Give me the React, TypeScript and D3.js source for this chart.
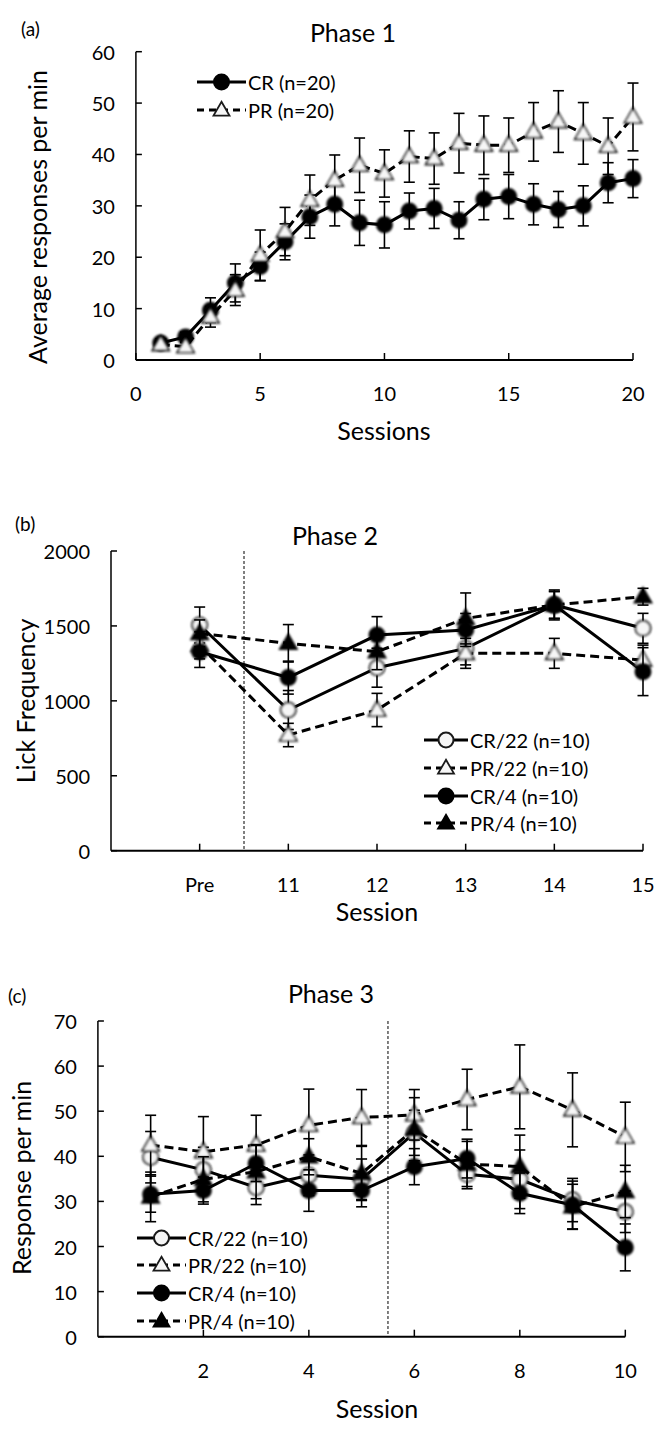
import React from 'react';
import * as d3 from 'd3';

// Phase 1
const sessionsA = d3.range(1, 21);
const crA = [3.3, 4.5, 9.7, 15.0, 18.2, 23.0, 27.9, 30.3, 26.7, 26.3, 29.0, 29.5, 27.2, 31.3, 31.8, 30.3, 29.3, 30.0, 34.5, 35.3];
const crAErr = [0.8, 0.9, 2.4, 3.7, 2.8, 3.5, 4.2, 4.2, 4.4, 4.5, 3.5, 3.9, 3.6, 4.0, 4.3, 4.0, 3.5, 3.9, 3.9, 3.7];
const prA = [3.0, 2.6, 8.4, 13.6, 20.4, 25.0, 31.1, 35.0, 37.9, 36.3, 39.6, 39.2, 42.2, 41.8, 41.8, 44.4, 46.4, 44.1, 41.6, 47.3];
const prAErr = [0.7, 0.8, 2.0, 3.0, 4.9, 4.7, 4.9, 4.9, 5.3, 4.6, 5.0, 5.0, 5.8, 5.7, 5.3, 5.7, 6.0, 6.0, 5.5, 6.6];
const xTicksA = [0, 5, 10, 15, 20];
const yTicksA = [0, 10, 20, 30, 40, 50, 60];

// Phase 2
const labelsB = ['Pre', '11', '12', '13', '14', '15'];
const cr22B = [1506, 939, 1221, 1350, 1640, 1484];
const cr22BErr = [120, 130, 130, 110, 90, 100];
const pr22B = [1370, 772, 939, 1317, 1317, 1272];
const pr22BErr = [90, 78, 111, 100, 100, 100];
const cr4B = [1328, 1155, 1439, 1473, 1640, 1195];
const cr4BErr = [105, 110, 123, 110, 90, 160];
const pr4B = [1450, 1384, 1328, 1550, 1640, 1695];
const pr4BErr = [90, 125, 120, 170, 100, 56];
const yTicksB = [0, 500, 1000, 1500, 2000];

// Phase 3
const sessionsC = d3.range(1, 11);
const cr22C = [39.8, 37.0, 33.1, 35.8, 34.9, 45.2, 36.0, 34.9, 30.3, 27.7];
const cr22CErr = [5.7, 5.0, 3.8, 4.5, 4.5, 5.0, 3.2, 6.5, 4.8, 4.6];
const pr22C = [42.5, 41.0, 42.5, 46.9, 48.6, 49.2, 52.6, 55.4, 50.3, 44.3];
const pr22CErr = [6.6, 7.8, 6.6, 8.0, 6.2, 5.6, 6.7, 9.3, 8.2, 7.7];
const cr4C = [31.6, 32.4, 38.4, 32.4, 32.4, 37.7, 39.5, 31.8, 29.2, 19.8];
const cr4CErr = [4.0, 3.0, 4.0, 4.6, 3.6, 4.0, 4.3, 4.5, 5.3, 5.2];
const pr4C = [31.0, 34.9, 36.6, 39.9, 36.2, 46.0, 38.3, 37.7, 28.8, 32.2];
const pr4CErr = [5.5, 5.0, 6.0, 4.0, 6.0, 7.0, 5.0, 7.0, 5.0, 5.8];
const xTicksC = [2, 4, 6, 8, 10];
const yTicksC = [0, 10, 20, 30, 40, 50, 60, 70];

const FONT = "Lato, 'Open Sans', sans-serif";

type Shape = 'circle' | 'triangle';
type Series = {
  label: string;
  xs: number[];
  values: number[];
  errs: number[];
  shape: Shape;
  filled: boolean;
  dashed: boolean;
};

const triPath = d3.symbol(d3.symbolTriangle, 125)()!;
const triPathLegend = d3.symbol(d3.symbolTriangle, 110)()!;

function Marker({ x, y, shape, filled, legend }: { x: number; y: number; shape: Shape; filled: boolean; legend?: boolean }) {
  const fill = filled ? '#000' : '#f6f6f6';
  const stroke = filled ? '#000' : '#1a1a1a';
  const filter = legend ? undefined : 'url(#soft)';
  if (shape === 'circle') {
    return <circle cx={x} cy={y} r={7.5} fill={fill} stroke={stroke} strokeWidth={2} filter={filter} />;
  }
  return (
    <path
      d={legend ? triPathLegend : triPath}
      transform={`translate(${x},${y + 1})`}
      fill={fill}
      stroke={stroke}
      strokeWidth={1.8}
      filter={filter}
    />
  );
}

type PanelProps = {
  x: d3.ScaleLinear<number, number>;
  y: d3.ScaleLinear<number, number>;
  xTicks: number[];
  xLabels: string[];
  yTicks: number[];
  series: Series[];
  tag: string;
  tagPos: [number, number];
  title: string;
  titlePos: [number, number];
  xTitle: string;
  xTitlePos: [number, number];
  yTitle: string;
  yTitlePos: [number, number];
  divider?: number;
  legend: { x0: number; x1: number; ys: number[] };
};

function Panel(p: PanelProps) {
  const [x0, x1] = p.x.range();
  const [y0, y1] = p.y.range();
  const line = (s: Series) =>
    d3
      .line<number>()
      .x((_, i) => p.x(s.xs[i]))
      .y((v) => p.y(v))(s.values)!;
  const lx = (p.legend.x0 + p.legend.x1) / 2;
  return (
    <g fontFamily={FONT} fill="#000">
      <text x={p.tagPos[0]} y={p.tagPos[1]} fontSize={19} dominantBaseline="central">{p.tag}</text>
      <text x={p.titlePos[0]} y={p.titlePos[1]} fontSize={25} textAnchor="middle" dominantBaseline="central">{p.title}</text>
      <text x={p.xTitlePos[0]} y={p.xTitlePos[1]} fontSize={25} textAnchor="middle" dominantBaseline="central">{p.xTitle}</text>
      <text
        transform={`translate(${p.yTitlePos[0]},${p.yTitlePos[1]}) rotate(-90)`}
        fontSize={25}
        textAnchor="middle"
        dominantBaseline="central"
      >
        {p.yTitle}
      </text>

      {/* axes */}
      <line x1={x0} x2={x0} y1={y0} y2={y1} stroke="#000" strokeWidth={1.5} />
      <line x1={x0} x2={x1} y1={y0} y2={y0} stroke="#000" strokeWidth={2} />
      {p.yTicks.map((t) => (
        <g key={'y' + t}>
          <line x1={x0} x2={x0 + 6} y1={p.y(t)} y2={p.y(t)} stroke="#000" strokeWidth={1.5} />
          <text x={x0 - 21} y={p.y(t)} fontSize={20} textAnchor="end" dominantBaseline="central">{t}</text>
        </g>
      ))}
      {p.xTicks.map((t, i) => (
        <g key={'x' + t}>
          <line x1={p.x(t)} x2={p.x(t)} y1={y0} y2={y0 - 7} stroke="#000" strokeWidth={1.5} />
          <text x={p.x(t)} y={y0 + 33} fontSize={20} textAnchor="middle" dominantBaseline="central">{p.xLabels[i]}</text>
        </g>
      ))}
      {p.divider !== undefined && (
        <line x1={p.x(p.divider)} x2={p.x(p.divider)} y1={y1} y2={y0} stroke="#000" strokeWidth={1} strokeDasharray="3,2" />
      )}

      {/* lines */}
      {p.series.map((s) => (
        <path key={'l' + s.label} d={line(s)} fill="none" stroke="#000" strokeWidth={3} strokeDasharray={s.dashed ? '9,5' : undefined} />
      ))}
      {/* series: error bars then markers */}
      {p.series.map((s) => (
        <g key={'s' + s.label}>
          {s.values.map((v, i) => {
            const cx = p.x(s.xs[i]);
            const top = p.y(v + s.errs[i]);
            const bot = p.y(v - s.errs[i]);
            return (
              <g key={i} stroke="#000" strokeWidth={1.6}>
                <line x1={cx} x2={cx} y1={top} y2={bot} />
                <line x1={cx - 5.5} x2={cx + 5.5} y1={top} y2={top} />
                <line x1={cx - 5.5} x2={cx + 5.5} y1={bot} y2={bot} />
              </g>
            );
          })}
          {s.values.map((v, i) => (
            <Marker key={'m' + i} x={p.x(s.xs[i])} y={p.y(v)} shape={s.shape} filled={s.filled} />
          ))}
        </g>
      ))}

      {/* legend */}
      {p.series.map((s, i) => {
        const ly = p.legend.ys[i];
        return (
          <g key={'lg' + s.label}>
            <line x1={p.legend.x0} x2={p.legend.x1} y1={ly} y2={ly} stroke="#000" strokeWidth={3} strokeDasharray={s.dashed ? '7,5' : undefined} />
            <Marker x={lx} y={ly} shape={s.shape} filled={s.filled} legend />
            <text x={p.legend.x1 + 2} y={ly} fontSize={20} dominantBaseline="central">{s.label}</text>
          </g>
        );
      })}
    </g>
  );
}

export default function App() {
  const xA = d3.scaleLinear().domain([0, 20]).range([135.9, 633]);
  const yA = d3.scaleLinear().domain([0, 60]).range([360, 51.7]);
  const xB = d3.scaleLinear().domain([0, 6]).range([111, 643]);
  const yB = d3.scaleLinear().domain([0, 2000]).range([850.7, 551]);
  const xC = d3.scaleLinear().domain([0, 10]).range([97.9, 625.3]);
  const yC = d3.scaleLinear().domain([0, 70]).range([1336.7, 1021]);
  const idxB = labelsB.map((_, i) => i + 1);

  const seriesA: Series[] = [
    { label: 'CR (n=20)', xs: sessionsA, values: crA, errs: crAErr, shape: 'circle', filled: true, dashed: false },
    { label: 'PR (n=20)', xs: sessionsA, values: prA, errs: prAErr, shape: 'triangle', filled: false, dashed: true },
  ];
  const seriesB: Series[] = [
    { label: 'CR/22 (n=10)', xs: idxB, values: cr22B, errs: cr22BErr, shape: 'circle', filled: false, dashed: false },
    { label: 'PR/22 (n=10)', xs: idxB, values: pr22B, errs: pr22BErr, shape: 'triangle', filled: false, dashed: true },
    { label: 'CR/4 (n=10)', xs: idxB, values: cr4B, errs: cr4BErr, shape: 'circle', filled: true, dashed: false },
    { label: 'PR/4 (n=10)', xs: idxB, values: pr4B, errs: pr4BErr, shape: 'triangle', filled: true, dashed: true },
  ];
  const seriesC: Series[] = [
    { label: 'CR/22 (n=10)', xs: sessionsC, values: cr22C, errs: cr22CErr, shape: 'circle', filled: false, dashed: false },
    { label: 'PR/22 (n=10)', xs: sessionsC, values: pr22C, errs: pr22CErr, shape: 'triangle', filled: false, dashed: true },
    { label: 'CR/4 (n=10)', xs: sessionsC, values: cr4C, errs: cr4CErr, shape: 'circle', filled: true, dashed: false },
    { label: 'PR/4 (n=10)', xs: sessionsC, values: pr4C, errs: pr4CErr, shape: 'triangle', filled: true, dashed: true },
  ];

  return (
    <svg width={661} height={1437} style={{ position: 'absolute', left: 0, top: 0, background: '#fff' }}>
      <defs>
        <filter id="soft" x="-50%" y="-50%" width="200%" height="200%">
          <feGaussianBlur stdDeviation={0.8} />
        </filter>
      </defs>
      <rect width={661} height={1437} fill="#fff" />
      <Panel
        x={xA} y={yA}
        xTicks={xTicksA} xLabels={xTicksA.map(String)} yTicks={yTicksA}
        series={seriesA}
        tag="(a)" tagPos={[21, 28]}
        title="Phase 1" titlePos={[353, 32]}
        xTitle="Sessions" xTitlePos={[384, 430]}
        yTitle="Average responses per min" yTitlePos={[37, 217]}
        legend={{ x0: 197, x1: 246, ys: [82, 110] }}
      />
      <Panel
        x={xB} y={yB}
        xTicks={idxB} xLabels={labelsB} yTicks={yTicksB}
        series={seriesB}
        tag="(b)" tagPos={[15, 523]}
        title="Phase 2" titlePos={[335, 535]}
        xTitle="Session" xTitlePos={[377, 911]}
        yTitle="Lick Frequency" yTitlePos={[25, 701]}
        divider={1.5}
        legend={{ x0: 424, x1: 468, ys: [740, 768, 796, 823] }}
      />
      <Panel
        x={xC} y={yC}
        xTicks={xTicksC} xLabels={xTicksC.map(String)} yTicks={yTicksC}
        series={seriesC}
        tag="(c)" tagPos={[8, 995]}
        title="Phase 3" titlePos={[331, 993]}
        xTitle="Session" xTitlePos={[377, 1408]}
        yTitle="Response per min" yTitlePos={[21, 1178]}
        divider={5.5}
        legend={{ x0: 137, x1: 186, ys: [1238, 1265, 1293, 1321] }}
      />
    </svg>
  );
}
